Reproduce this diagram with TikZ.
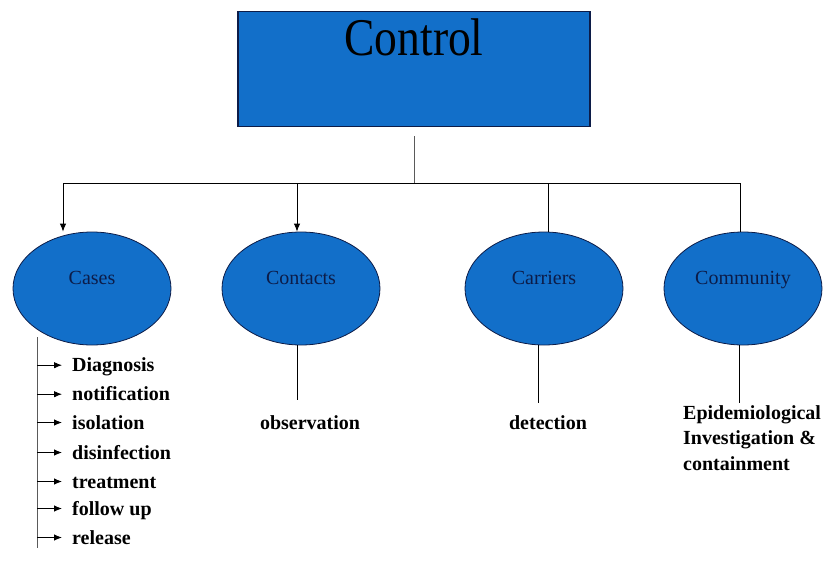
\documentclass[tikz,border=0pt]{standalone}
\usepackage{fontspec}
\setmainfont{Liberation Serif}
\usetikzlibrary{shapes.geometric,arrows.meta}
\definecolor{ctrlblue}{RGB}{018, 111, 201}
\definecolor{ctrlnavy}{RGB}{012, 028, 072}
\definecolor{linegray}{RGB}{090, 090, 090}

\begin{document}
\begin{tikzpicture}[x=1pt,y=-1pt,
    bubble/.style={ellipse,draw=ctrlnavy,fill=ctrlblue,line width=.8pt,minimum width=158pt,minimum height=113pt,inner sep=0pt,text height=10pt,text depth=19pt,text=ctrlnavy,font=\fontsize{20}{20}\selectfont},
    item/.style={anchor=base west,inner xsep=10pt,inner ysep=0pt,text height=13pt,text depth=0pt,font=\fontsize{20}{24}\selectfont\bfseries},
    lbl/.style={anchor=base,inner sep=0pt,text height=13pt,text depth=0pt,font=\fontsize{20}{24}\selectfont\bfseries},
    stem/.style={line width=.9pt},
    tip/.style={-{Latex[length=8pt,width=6.5pt]},line width=.9pt}]
      \useasboundingbox (0,0) rectangle (836,562);
      %\draw[help lines] (0,0) grid (836,562);
      \node[draw=ctrlnavy,line width=1.2pt,fill=ctrlblue,anchor=north,minimum width=352pt,inner sep=0pt,text height=44pt,text depth=71pt,font=\fontsize{53}{53}\selectfont] (control) at (414,11) {\scalebox{.86}[1]{Control}};
      \node[bubble] (cases) at (92,288.5) {Cases};
      \node[bubble] (contacts) at (301,288.5) {Contacts};
      \node[bubble] (carriers) at (544,288.5) {Carriers};
      \node[bubble] (community) at (743,288.5) {Community};
      % branches
      \coordinate (hub) at (414,183);
      \coordinate (b1) at (63,183);
      \coordinate (b2) at (297,183);
      \coordinate (b3) at (548,183);
      \coordinate (b4) at (740,183);
      \draw[linegray,line width=.7pt] ([yshift=-9pt]control.south) -- (hub);
      \draw[stem] (b1) -- (b4);
      \draw[tip] (b1) -- (b1 |- cases.north);
      \draw[tip] (b2) -- (b2 |- contacts.north);
      \draw[stem] (b3) -- (b3 |- carriers.north);
      \draw[stem] (b4) -- (b4 |- community.north);
      % cases
      \coordinate (spine) at (37,337);
      \coordinate (spineend) at (37,548);
      \draw[stem,linegray] (spine) -- (spineend);
      \node[item] (d1) at (62,371.7) {Diagnosis};
      \node[item] (d2) at (62,400.7) {notification};
      \node[item] (d3) at (62,429) {isolation};
      \node[item] (d4) at (62,459) {disinfection};
      \node[item] (d5) at (62,488) {treatment};
      \node[item] (d6) at (62,515) {follow up};
      \node[item] (d7) at (62,544) {release};
      \draw[tip] (spine |- d1.west) -- (d1.west);
      \draw[tip] (spine |- d2.west) -- (d2.west);
      \draw[tip] (spine |- d3.west) -- (d3.west);
      \draw[tip] (spine |- d4.west) -- (d4.west);
      \draw[tip] (spine |- d5.west) -- (d5.west);
      \draw[tip] (spine |- d6.west) -- (d6.west);
      \draw[tip] (spine |- d7.west) -- (d7.west);
      % contacts, carriers, community
      \node[lbl] (obs) at (310,429) {observation};
      \node[lbl] (det) at (548,429) {detection};
      \node[anchor=north west,align=left,inner sep=0pt,font=\fontsize{20}{25.5}\selectfont\bfseries] (epi) at (683,405) {Epidemiological\\Investigation \&\\containment};
      \coordinate (s2) at ([xshift=-4pt]contacts.south);
      \coordinate (s3) at ([xshift=-6pt]carriers.south);
      \coordinate (s4) at ([xshift=-4pt]community.south);
      \draw[stem,shorten >=16pt] (s2) -- (s2 |- obs.north);
      \draw[stem,shorten >=13pt] (s3) -- (s3 |- det.north);
      \draw[stem,shorten >=2pt] (s4) -- (s4 |- epi.north);
    \end{tikzpicture}
\end{document}
